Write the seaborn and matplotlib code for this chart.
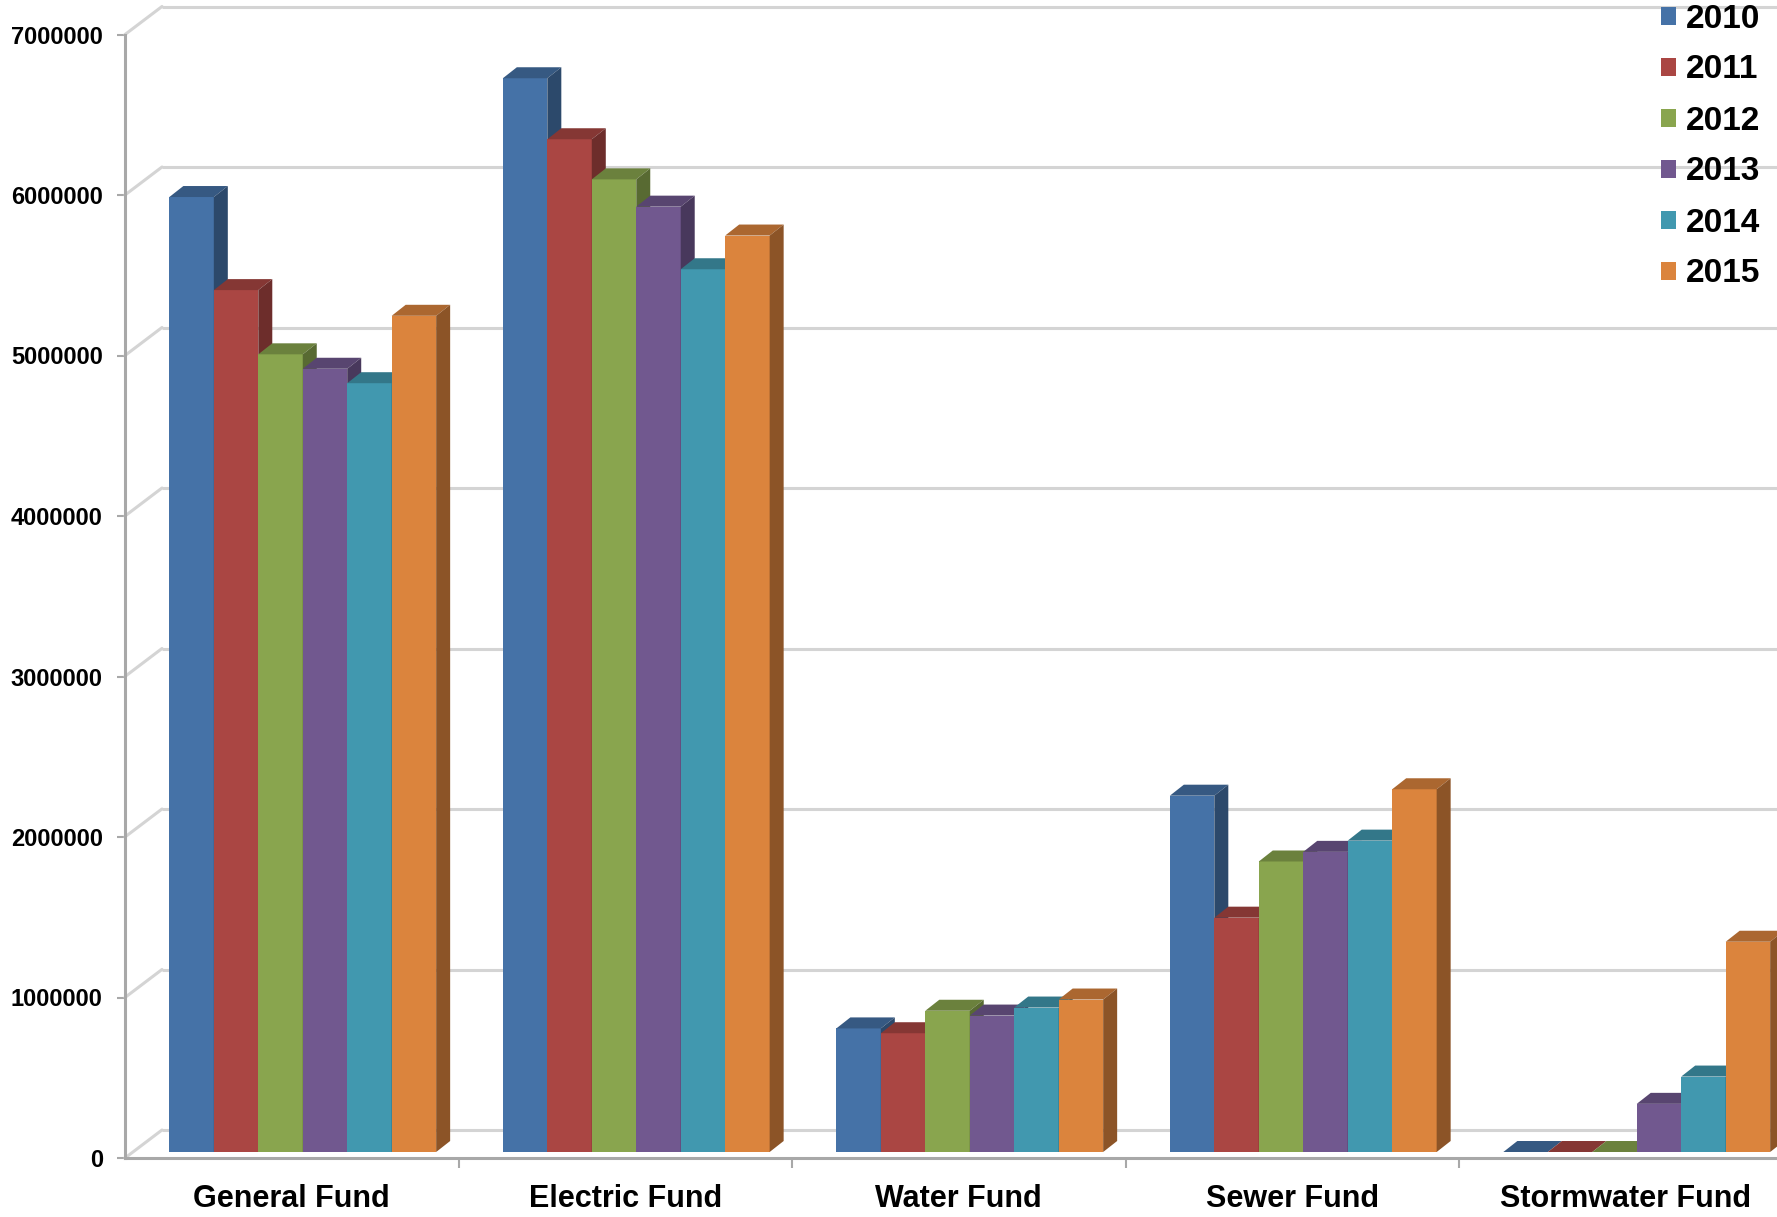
import numpy as np
import pandas as pd
import matplotlib
matplotlib.use("Agg")
import matplotlib.pyplot as plt
import matplotlib.transforms as mtransforms
from matplotlib.colors import to_rgb
from matplotlib.patches import Polygon, Patch
import seaborn as sns

# ---- data -------------------------------------------------------------
funds = ["General Fund", "Electric Fund", "Water Fund", "Sewer Fund", "Stormwater Fund"]
years = ["2010", "2011", "2012", "2013", "2014", "2015"]
v2010 = [5950000, 6690000, 770000, 2220000, 0]
v2011 = [5370000, 6310000, 740000, 1460000, 0]
v2012 = [4970000, 6060000, 880000, 1810000, 0]
v2013 = [4880000, 5890000, 850000, 1870000, 300000]
v2014 = [4790000, 5500000, 900000, 1940000, 470000]
v2015 = [5210000, 5710000, 950000, 2260000, 1310000]
y_ticks = [0, 1000000, 2000000, 3000000, 4000000, 5000000, 6000000, 7000000]
y_tick_labels = ["0", "1000000", "2000000", "3000000", "4000000", "5000000", "6000000", "7000000"]
bar_colors = ["#4572A7", "#AA4643", "#89A54E", "#71588F", "#4198AF", "#DB843D"]

series = [v2010, v2011, v2012, v2013, v2014, v2015]
df = pd.DataFrame(
    [(f, y, vals[i]) for y, vals in zip(years, series) for i, f in enumerate(funds)],
    columns=["fund", "year", "value"],
)

# ---- styling ----------------------------------------------------------
sns.set_theme(style="white")
plt.rcParams["font.family"] = ["Liberation Sans", "DejaVu Sans"]
plt.rcParams["font.weight"] = "bold"
plt.rcParams["text.color"] = "black"

W, H = 1777, 1217
fig = plt.figure(figsize=(W / 100, H / 100), dpi=100)
fig.patch.set_facecolor("white")

# front plane of the 3-D box: left axis at x=125 px, baseline 59 px above bottom
ax_left, ax_bottom = 125, 59
cat_px = 333.5
ax_w, ax_h = cat_px * 5, 1123.5
ax = fig.add_axes([ax_left / W, ax_bottom / H, ax_w / W, ax_h / H])
ax.set_facecolor("none")

sns.barplot(
    data=df, x="fund", y="value", hue="year", order=funds, hue_order=years,
    palette=bar_colors, saturation=1, width=0.8, errorbar=None,
    legend=False, linewidth=0, ax=ax,
)
ax.set_xlim(-0.5, 4.5)
ax.set_ylim(0, 7000000)
ax.set_xlabel("")
ax.set_ylabel("")

px_x = ax_w / 5.0          # pixels per category
px_y = ax_h / 7000000.0    # pixels per unit value

# depth offsets (in output pixels)
bar_dx, bar_dy = 11, 6      # bars sit slightly behind the front plane
back_dx, back_dy = 37, 28   # back wall
side_dx, side_dy = 14, 11   # bar thickness

bar_tr = mtransforms.offset_copy(ax.transData, fig=fig, x=bar_dx, y=bar_dy, units="dots")
back_tr = mtransforms.offset_copy(ax.transData, fig=fig, x=back_dx, y=back_dy, units="dots")

grid_col = "#D4D4D4"
axis_col = "#A8A8A8"

# back wall gridlines and the slanted side-wall lines
for v in y_ticks:
    ax.plot([-0.5, 4.7], [v, v], transform=back_tr, color=grid_col, lw=2.2,
            clip_on=False, zorder=1, solid_capstyle="butt")
    ax.plot([-0.5, -0.5 + back_dx / px_x], [v, v + back_dy / px_y], color=grid_col,
            lw=2.2, clip_on=False, zorder=1)

# 3-D faces for every bar, drawn left to right
def shade(c, f):
    r, g, b = to_rgb(c)
    return (r * f, g * f, b * f)

ddx = side_dx / px_x
ddy = side_dy / px_y
bars = sorted(ax.patches, key=lambda p: p.get_x())
for k, p in enumerate(bars):
    z = 3 + k * 0.1
    fc = p.get_facecolor()
    p.set_transform(bar_tr)
    p.set_zorder(z)
    p.set_clip_on(False)
    x0, w, h = p.get_x(), p.get_width(), p.get_height()
    top = Polygon([(x0, h), (x0 + w, h), (x0 + w + ddx, h + ddy), (x0 + ddx, h + ddy)],
                  closed=True, facecolor=shade(fc, 0.78), edgecolor="none",
                  transform=bar_tr, zorder=z + 0.01, clip_on=False)
    side = Polygon([(x0 + w, 0), (x0 + w + ddx, ddy), (x0 + w + ddx, h + ddy), (x0 + w, h)],
                   closed=True, facecolor=shade(fc, 0.64), edgecolor="none",
                   transform=bar_tr, zorder=z + 0.02, clip_on=False)
    ax.add_patch(top)
    ax.add_patch(side)

# front axes
for s in ["top", "right"]:
    ax.spines[s].set_visible(False)
for s in ["left", "bottom"]:
    ax.spines[s].set_color(axis_col)
    ax.spines[s].set_linewidth(2.2)
    ax.spines[s].set_zorder(2)
ax.spines["bottom"].set_bounds(-0.5, 4.7)

ax.set_yticks(y_ticks)
ax.set_yticklabels(y_tick_labels, fontsize=17, fontweight="bold", color="black")
ax.tick_params(axis="y", direction="out", length=6, width=1.5, color=axis_col, pad=10, left=True)

ax.set_xticks(range(len(funds)))
ax.set_xticklabels(funds, fontsize=22, fontweight="bold", color="black")
ax.set_xticks([0.5, 1.5, 2.5, 3.5], minor=True)
ax.tick_params(axis="x", which="major", length=0, pad=19, bottom=False)
ax.tick_params(axis="x", which="minor", direction="out", length=7, width=1.5,
               color=axis_col, bottom=True)
ax.grid(False)

# legend
handles = [Patch(facecolor=c, edgecolor="none") for c in bar_colors]
fig.legend(
    handles, years, loc="upper left", bbox_to_anchor=(1661 / W, 1 - 3.5 / H),
    bbox_transform=fig.transFigure, frameon=False, borderpad=0, borderaxespad=0,
    prop={"size": 24, "weight": "bold"}, handlelength=0.45, handleheight=0.45,
    handletextpad=0.3, labelspacing=0.6, labelcolor="black",
)

fig.savefig("out.png", dpi=100, facecolor="white")
